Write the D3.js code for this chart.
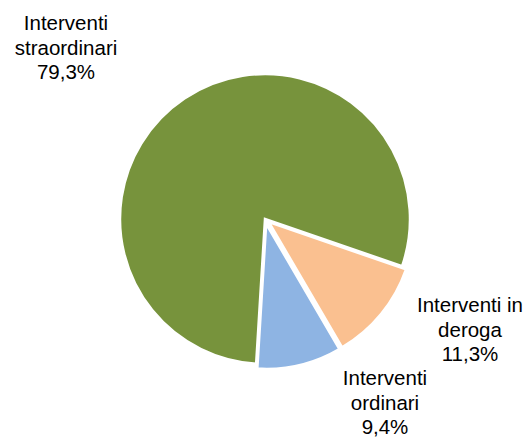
<!DOCTYPE html>
<html>
<head>
<meta charset="utf-8">
<script src="https://cdn.jsdelivr.net/npm/d3@7"></script>
<style>
  body { margin: 0; background: #fff; }
  text { font-family: "Liberation Sans", Arial, sans-serif; fill: #000; }
</style>
</head>
<body>
<svg id="chart"></svg>
<script>
var categories = ['Interventi straordinari', 'Interventi in deroga', 'Interventi ordinari'];
var values = [79.3, 11.3, 9.4];
var labelLines = [
    ['Interventi', 'straordinari', '79,3%'],
    ['Interventi in', 'deroga', '11,3%'],
    ['Interventi', 'ordinari', '9,4%']
];
var colors = ['#77933C', '#FAC090', '#8EB4E3'];

var width = 531;
var height = 437;
var cx = 265, cy = 219, radius = 145;
// explode offsets for the two small slices
var explode = [0, 5, 5];
// label anchor: centre x, first baseline y
var labelPos = [[66, 30], [470, 312], [385, 385]];

var svg = d3.select('#chart')
    .attr('width', width)
    .attr('height', height);

var pie = d3.pie()
    .sort(null)
    .startAngle(183.5 * Math.PI / 180)
    .endAngle((183.5 + 360) * Math.PI / 180);

var arc = d3.arc()
    .innerRadius(0)
    .outerRadius(radius);

var arcs = pie(values);

var g = svg.append('g')
    .attr('transform', 'translate(' + cx + ',' + cy + ')');

g.selectAll('path')
    .data(arcs)
    .enter().append('path')
    .attr('d', arc)
    .attr('fill', function(d, i) { return colors[i]; })
    .attr('stroke', '#fff')
    .attr('stroke-width', 2.5)
    .attr('stroke-linejoin', 'miter')
    .attr('transform', function(d, i) {
        var mid = (d.startAngle + d.endAngle) / 2;
        return 'translate(' + (Math.sin(mid) * explode[i]) + ',' + (-Math.cos(mid) * explode[i]) + ')';
    });

var labels = svg.selectAll('text.label')
    .data(categories)
    .enter().append('text')
    .attr('class', 'label')
    .attr('text-anchor', 'middle')
    .attr('font-size', 20.5);

labels.each(function(d, i) {
    var t = d3.select(this);
    labelLines[i].forEach(function(line, j) {
        t.append('tspan')
            .attr('x', labelPos[i][0])
            .attr('y', labelPos[i][1] + j * 24.5)
            .text(line);
    });
});
</script>
</body>
</html>
